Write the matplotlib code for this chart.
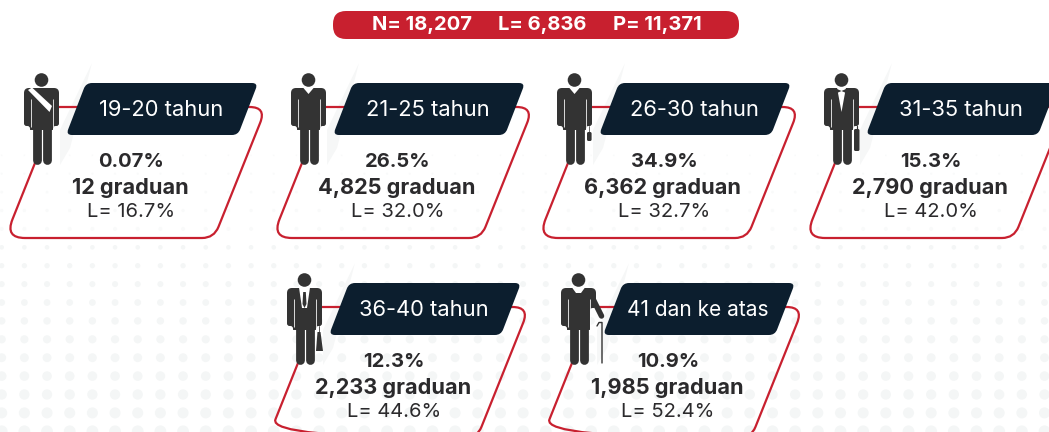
import numpy as np
import matplotlib.pyplot as plt
from matplotlib.path import Path
from matplotlib.patches import PathPatch, Circle, Polygon, FancyBboxPatch

plt.rcParams['font.family'] = ['Inter', 'DejaVu Sans']

# Data
age_labels = ["19-20 tahun", "21-25 tahun", "26-30 tahun", "31-35 tahun", "36-40 tahun", "41 dan ke atas"]
pct_labels = ["0.07%", "26.5%", "34.9%", "15.3%", "12.3%", "10.9%"]
count_labels = ["12 graduan", "4,825 graduan", "6,362 graduan", "2,790 graduan", "2,233 graduan", "1,985 graduan"]
female_labels = ["L= 16.7%", "L= 32.0%", "L= 32.7%", "L= 42.0%", "L= 44.6%", "L= 52.4%"]
header_text = ["N= 18,207", "L= 6,836", "P= 11,371"]

# Layout, pixels from the top-left, offsets from the first card
offset_x = [0, 267, 533, 800, 263, 537]
offset_y = [0, 0, 0, 0, 200, 200]

RED = "#c8202f"
NAVY = "#0c1e2e"
DARK = "#333333"
TEXT = "#2b2a2c"


def rounded(points, radii, closed=True):
    # polygon path with its corners cut by quadratic curves
    pts = [np.array(p, float) for p in points]
    n = len(pts)
    verts, codes = [], []
    for i in range(n):
        p = pts[i]
        if not closed and i in (0, n - 1):
            verts.append(p)
            codes.append(Path.MOVETO if i == 0 else Path.LINETO)
            continue
        a = pts[i - 1] - p
        b = pts[(i + 1) % n] - p
        r = radii[i] if np.ndim(radii) else radii
        start = p + a / np.linalg.norm(a) * r
        end = p + b / np.linalg.norm(b) * r
        verts += [start, p, end]
        codes += [Path.LINETO if verts[:-3] else Path.MOVETO, Path.CURVE3, Path.CURVE3]
    if closed:
        verts.append(verts[0])
        codes.append(Path.CLOSEPOLY)
    return Path(verts, codes)


def add_shape(ax, points, radii, dx, dy, **kw):
    moved = [(x + dx, y + dy) for x, y in points]
    closed = kw.pop("closed", True)
    ax.add_patch(PathPatch(rounded(moved, radii, closed), **kw))


def draw_person(ax, i, dx, dy):
    def line(xs, ys, w, color=DARK, cap="round", z=6):
        ax.plot(np.array(xs) + dx, np.array(ys) + dy, color=color, lw=w * 0.72,
                solid_capstyle=cap, solid_joinstyle="round", zorder=z)

    def poly(points, color, z=7):
        ax.add_patch(Polygon([(x + dx, y + dy) for x, y in points], closed=True,
                             fc=color, ec="none", zorder=z))

    ax.add_patch(Circle((41.5 + dx, 80 + dy), 6.8, fc=DARK, ec="none", zorder=6))
    arm_end = 108 if i == 5 else 126
    add_shape(ax, [(24, 88), (59, 88), (59, arm_end), (53, arm_end), (53, 130), (30, 130), (30, 126), (24, 126)],
              [5, 5, 2.6, 2.6, .5, .5, 2.6, 2.6], dx, dy, fc=DARK, ec="none", zorder=6)
    line([36.5, 36.5], [125, 159.7], 8.8)
    line([46.7, 46.7], [125, 159.7], 8.8)
    line([30.9, 30.9], [99, 127], 0.8, color="white", cap="butt", z=7)
    line([52.6, 52.6], [99, 127], 0.8, color="white", cap="butt", z=7)

    if i == 0:
        poly([(28, 90), (32, 87.5), (52, 106), (49.5, 112)], "white")
    elif i == 1:
        poly([(36, 87.5), (47, 87.5), (41.5, 94)], "white")
    elif i == 2:
        poly([(36, 87.5), (47, 87.5), (41.5, 94)], "white")
        line([56.3, 56.3], [126, 132], 0.7)
        ax.add_patch(FancyBboxPatch((54 + dx, 132 + dy), 4.6, 9, boxstyle="round,pad=0,rounding_size=1.5",
                                    fc=DARK, ec="none", zorder=6))
    elif i == 3:
        poly([(37, 87.5), (46, 87.5), (41.5, 112)], "white")
        poly([(37, 89), (41.5, 91), (46, 89), (46, 93), (41.5, 91), (37, 93)], DARK, z=8)
        line([56.5, 56.5], [126, 130], 1.2)
        ax.add_patch(FancyBboxPatch((54 + dx, 129 + dy), 5.5, 22, boxstyle="round,pad=0,rounding_size=1.5",
                                    fc=DARK, ec="none", zorder=6))
    elif i == 4:
        poly([(36, 87.5), (47, 87.5), (44, 108), (39, 108)], "white")
        poly([(40.2, 92), (42.8, 92), (43.5, 104), (41.5, 108), (39.5, 104)], DARK, z=8)
        line([56, 56], [126, 132], 0.8)
        poly([(54.5, 132), (57.5, 132), (60, 151), (53, 151)], DARK, z=6)
    else:
        poly([(35, 87.5), (48, 87.5), (44, 93), (39, 93)], "white")
        line([54.5, 60, 64.5], [96, 107, 116], 5.5)
        line([60, 62, 65, 65], [126, 122.5, 122.5, 163], 1.4, z=6)


fig = plt.figure(figsize=(10.49, 4.32), dpi=100)
ax = fig.add_axes([0, 0, 1, 1])
ax.set_xlim(0, 1049)
ax.set_ylim(432, 0)
ax.axis("off")

# Faint dotted background, dots grow toward the bottom
for row in range(-5, 11):
    y = 247.3 + 18.4 * row
    size = 2.3 + (y - 247.3) * 0.0194 if row >= 0 else 2.3 + row * 0.3
    shade = "#f4f6f6" if row >= 0 else "#f9fafa"
    for col in range(47):
        ax.add_patch(Circle((1.7 + 22.67 * col, y), size, fc=shade, ec="none", zorder=1))

# Top summary pill
ax.add_patch(FancyBboxPatch((333, 11), 406, 28, boxstyle="round,pad=0,rounding_size=13",
                            fc=RED, ec="none", zorder=2))
for txt, x in zip(header_text, [422, 542.5, 657]):
    ax.text(x, 25.5, txt, ha="center", va="center", color="white", fontsize=14.5, fontweight="bold", zorder=3)

for i, (dx, dy) in enumerate(zip(offset_x, offset_y)):
    # soft wedge behind the figure
    ax.add_patch(Polygon([(92 + dx, 63 + dy), (60 + dx, 130 + dy), (60 + dx, 165 + dy), (70 + dx, 148 + dy)],
                         closed=True, fc="#f6f7f7", ec="none", zorder=2))
    # red outline of the card
    add_shape(ax, [(248, 107), (266.5, 107), (214, 238), (5, 238), (35, 163)], [0, 17, 12, 20, 0], dx, dy,
              closed=False, fc="none", ec=RED, lw=1.6, zorder=3)
    ax.plot([59 + dx, 78 + dx], [107 + dy, 107 + dy], color=RED, lw=1.6, zorder=3)
    # dark header tag
    add_shape(ax, [(86, 83), (258, 83), (238, 135), (66, 135)], 6, dx, dy, fc=NAVY, ec="none", zorder=4)
    ax.text(161 + dx, 110.5 + dy, age_labels[i], ha="center", va="center", color="white",
            fontsize=15.8 if i < 5 else 15, zorder=5)
    draw_person(ax, i, dx, dy)
    ax.text(131 + dx, 162 + dy, pct_labels[i], ha="center", va="center", color=TEXT,
            fontsize=14.5, fontweight="bold", zorder=5)
    ax.text(130 + dx, 188 + dy, count_labels[i], ha="center", va="center", color=TEXT,
            fontsize=15.6, fontweight="bold", zorder=5)
    ax.text(131 + dx, 212 + dy, female_labels[i], ha="center", va="center", color=TEXT,
            fontsize=14.5, zorder=5)

fig.savefig("out.png", dpi=100, facecolor="white")
